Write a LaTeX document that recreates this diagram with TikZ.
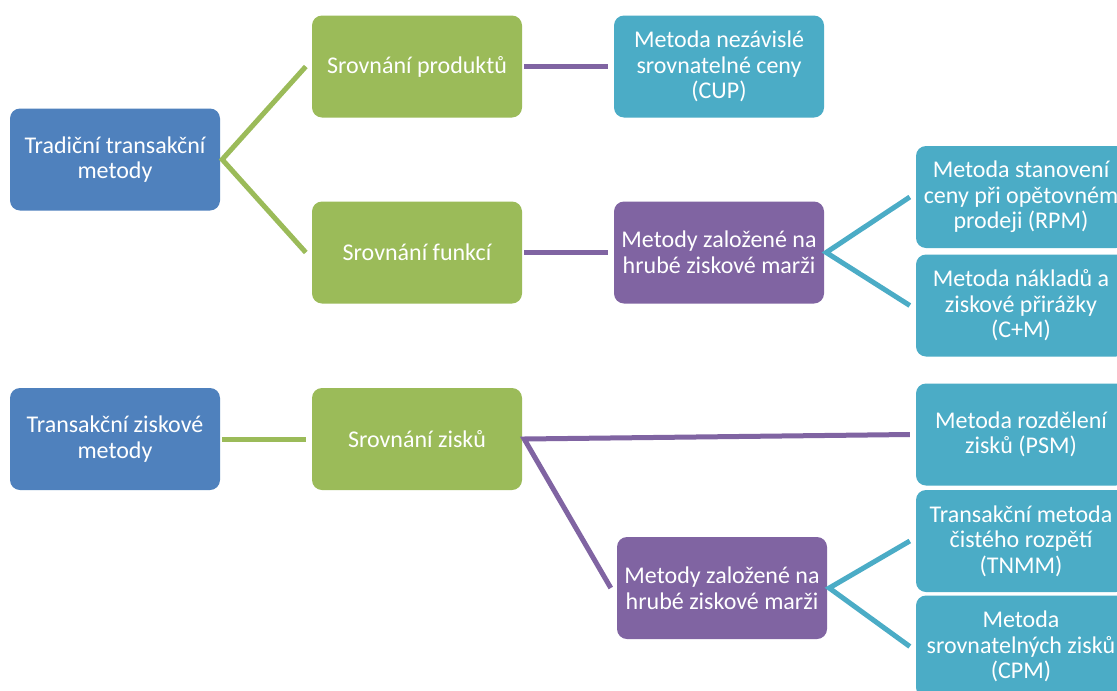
\documentclass[tikz,border=0pt]{standalone}
\usepackage{fontspec}
\setmainfont{Carlito}
\definecolor{cblue}{HTML}{4F81BD}
\definecolor{cgreen}{HTML}{9BBB59}
\definecolor{cpurple}{HTML}{8064A2}
\definecolor{cteal}{HTML}{4BACC6}
\begin{document}
\begin{tikzpicture}[x=1pt,y=-1pt,
  box/.style={rectangle,rounded corners=10pt,minimum width=210pt,minimum height=102pt,
    inner sep=0pt,align=center,text=white,font=\fontsize{24}{25.5}\selectfont},
  bluebox/.style={box,fill=cblue},
  greenbox/.style={box,fill=cgreen},
  purplebox/.style={box,fill=cpurple},
  tealbox/.style={box,fill=cteal},
  link/.style={line width=5pt},
  glink/.style={link,draw=cgreen},
  plink/.style={link,draw=cpurple},
  tlink/.style={link,draw=cteal}]
\useasboundingbox (0,0) rectangle (1117,691);
\clip (0,0) rectangle (1117,691);
\fill[white] (0,0) rectangle (1117,691);

% upper tree: traditional transaction methods
\node[bluebox]   (b1) at (115,159.5) {Tradiční transakční\\metody};
\node[greenbox]  (g1) at (417,66.5)  {Srovnání produktů};
\node[tealbox]   (t1) at (719,66.5)  {Metoda nezávislé\\srovnatelné ceny\\(CUP)};
\node[greenbox]  (g2) at (417,252.5) {Srovnání funkcí};
\node[purplebox] (p1) at (719,252.5) {Metody založené na\\hrubé ziskové marži};
\node[tealbox]   (t2) at (1021,197)  {Metoda stanovení\\ceny při opětovném\\prodeji (RPM)};
\node[tealbox]   (t3) at (1021,305.5) {Metoda nákladů a\\ziskové přirážky\\(C+M)};

% lower tree: transactional profit methods
\node[bluebox]   (b2) at (115,439)   {Transakční ziskové\\metody};
\node[greenbox]  (g3) at (417,439)   {Srovnání zisků};
\node[tealbox]   (t4) at (1021,434.5) {Metoda rozdělení\\zisků (PSM)};
\node[purplebox] (p2) at (722,588)   {Metody založené na\\hrubé ziskové marži};
\node[tealbox]   (t5) at (1021,541)  {Transakční metoda\\čistého rozpětí\\(TNMM)};
\node[tealbox]   (t6) at (1021,646.5) {Metoda\\srovnatelných zisků\\(CPM)};

% connectors
\draw[glink] ([xshift=-6pt]g1.west) -- ([xshift=2pt]b1.east) -- ([xshift=-6pt]g2.west);
\draw[plink] ([xshift=2pt]g1.east) -- ([xshift=-6pt]t1.west);
\draw[plink] ([xshift=2pt]g2.east) -- ([xshift=-6pt]p1.west);
\draw[tlink] ([xshift=-6pt]t2.west) -- ([xshift=2pt]p1.east) -- ([xshift=-6pt]t3.west);

\draw[glink] ([xshift=2pt]b2.east) -- ([xshift=-6pt]g3.west);
\draw[plink] ([xshift=-6pt]t4.west) -- ([xshift=2pt]g3.east) -- ([xshift=-6pt]p2.west);
\draw[tlink] ([xshift=-6pt]t5.west) -- ([xshift=2pt]p2.east) -- ([xshift=-6pt]t6.west);
\end{tikzpicture}
\end{document}
